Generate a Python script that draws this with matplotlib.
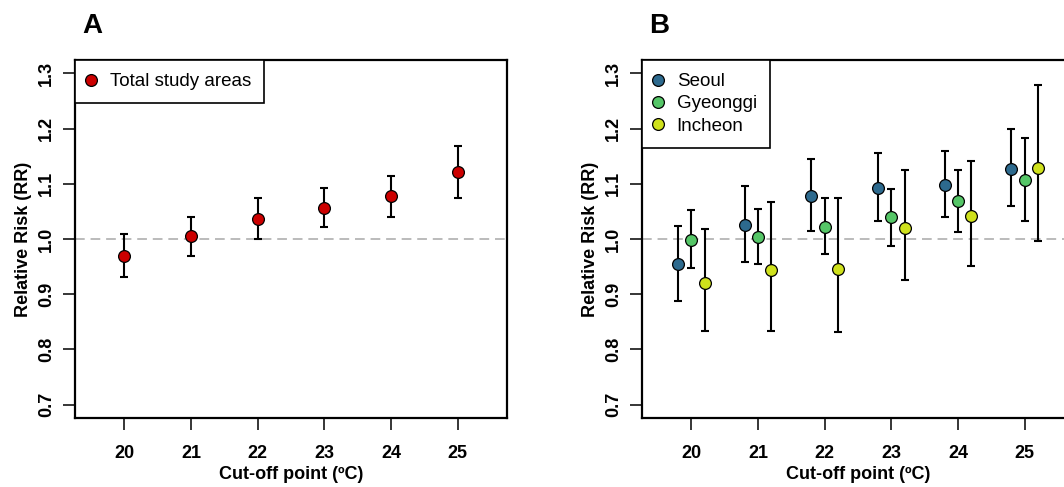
import matplotlib
matplotlib.use('Agg')
import matplotlib.pyplot as plt
import numpy as np

plt.rcParams['font.family'] = ['Liberation Sans', 'DejaVu Sans']

cutoff = [20, 21, 22, 23, 24, 25]

# panel A: total study areas
total_rr = [0.969, 1.005, 1.037, 1.057, 1.077, 1.121]
total_lo = [0.932, 0.970, 1.000, 1.022, 1.040, 1.075]
total_hi = [1.009, 1.040, 1.075, 1.093, 1.114, 1.168]

# panel B: regions
seoul_rr = [0.954, 1.025, 1.078, 1.092, 1.098, 1.127]
seoul_lo = [0.888, 0.959, 1.015, 1.033, 1.039, 1.059]
seoul_hi = [1.023, 1.096, 1.144, 1.156, 1.159, 1.199]

gyeonggi_rr = [0.998, 1.004, 1.022, 1.039, 1.068, 1.106]
gyeonggi_lo = [0.947, 0.954, 0.972, 0.988, 1.013, 1.033]
gyeonggi_hi = [1.052, 1.055, 1.075, 1.090, 1.124, 1.183]

incheon_rr = [0.921, 0.944, 0.945, 1.020, 1.042, 1.128]
incheon_lo = [0.833, 0.834, 0.831, 0.926, 0.951, 0.996]
incheon_hi = [1.018, 1.067, 1.075, 1.124, 1.141, 1.279]

regions = [
    ("Seoul", seoul_rr, seoul_lo, seoul_hi, "#2d6a8e", -0.2),
    ("Gyeonggi", gyeonggi_rr, gyeonggi_lo, gyeonggi_hi, "#55c667", 0.0),
    ("Incheon", incheon_rr, incheon_lo, incheon_hi, "#cfe11c", 0.2),
]


def draw_series(ax, x, rr, lo, hi, color, label):
    rr = np.array(rr)
    err = [rr - np.array(lo), np.array(hi) - rr]
    ax.errorbar(x, rr, yerr=err, fmt='none', ecolor='black',
                elinewidth=1.5, capsize=2.6, capthick=1.5, zorder=2)
    ax.plot(x, rr, 'o', color=color, markeredgecolor='black',
            markeredgewidth=0.9, markersize=8.5, label=label, zorder=3,
            linestyle='none')


def style_axes(ax, panel):
    ax.set_xlim(19.26, 25.74)
    ax.set_ylim(0.676, 1.324)
    ax.axhline(1.0, color='#bbbbbb', linestyle=(0, (5, 3)), linewidth=1.4, zorder=1)
    ax.set_xticks(cutoff)
    ax.set_yticks([0.7, 0.8, 0.9, 1.0, 1.1, 1.2, 1.3])
    ax.set_yticklabels(['0.7', '0.8', '0.9', '1.0', '1.1', '1.2', '1.3'],
                       rotation=90, va='center')
    ax.tick_params(axis='both', direction='out', length=8.5, width=1.1,
                   labelsize=13)
    ax.tick_params(axis='x', pad=11)
    ax.tick_params(axis='y', pad=6)
    for lab in ax.get_xticklabels() + ax.get_yticklabels():
        lab.set_fontweight('bold')
    for s in ax.spines.values():
        s.set_linewidth(1.6)
    ax.set_xlabel(u"Cut-off point (\u00baC)", fontsize=13, fontweight='bold',
                  labelpad=3)
    ax.set_ylabel("Relative Risk (RR)", fontsize=13, fontweight='bold',
                  labelpad=4)
    leg = ax.legend(loc='upper left', borderaxespad=0, fontsize=13.5,
                    fancybox=False, framealpha=1, edgecolor='black',
                    handletextpad=0.85, handlelength=0.3,
                    labelspacing=0.27, borderpad=0.7)
    leg.get_frame().set_linewidth(1.2)
    ax.text(0.016, 1.0754, panel, transform=ax.transAxes, fontsize=20,
            fontweight='bold', ha='left', va='baseline')


fig = plt.figure(figsize=(10.64, 4.87), dpi=100)
axA = fig.add_axes([75 / 1064, 69 / 487, 432 / 1064, 358 / 487])
axB = fig.add_axes([642 / 1064, 69 / 487, 432 / 1064, 358 / 487])

draw_series(axA, np.array(cutoff), total_rr, total_lo, total_hi, '#cc0000',
            'Total study areas')
style_axes(axA, 'A')

for name, rr, lo, hi, col, off in regions:
    draw_series(axB, np.array(cutoff) + off, rr, lo, hi, col, name)
style_axes(axB, 'B')

plt.savefig('out.png', dpi=100)
